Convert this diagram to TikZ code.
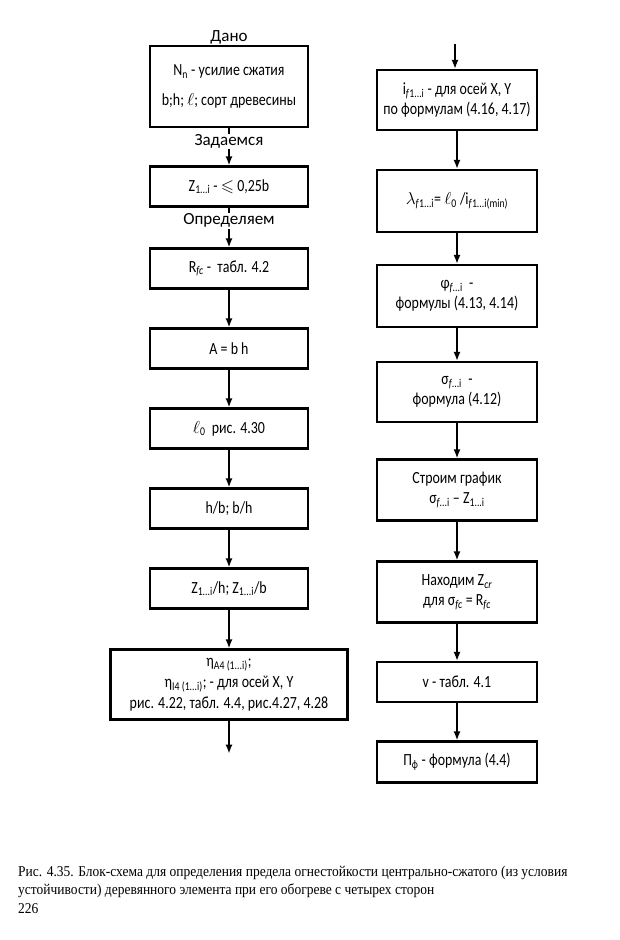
\documentclass[tikz,border=0pt]{standalone}
\usepackage{amssymb}
\usepackage{fontspec}
\setmainfont{Carlito}[FakeStretch=0.82]
\newfontfamily\labelfont{Carlito}
\newfontfamily\capfont{Liberation Serif}[FakeStretch=0.9]
\usetikzlibrary{calc}
\usetikzlibrary{shapes.geometric, arrows.meta}
\newcommand{\boxfont}{\fontsize{17}{20}\selectfont}
\tikzstyle{process} = [rectangle, minimum width=158pt, minimum height=40pt, align=center, draw=black, line width=2.2pt, font=\boxfont, inner sep=2pt]
\tikzstyle{tallproc} = [process, minimum width=160pt, minimum height=61pt]
\tikzstyle{note} = [font=\labelfont\fontsize{17}{20}\selectfont, fill=white, inner sep=1pt]
\tikzstyle{caption} = [anchor=base west, font=\capfont\fontsize{15}{18}\selectfont, inner sep=0pt]
\tikzstyle{arrow} = [line width=1.6pt,-{Latex[length=9pt,width=7pt]}]

\begin{document}
\begin{tikzpicture}[x=1pt, y=1pt, node distance=80pt]
\useasboundingbox (0,0) rectangle (620,-940);

% left column
\node (given) [process, minimum height=81pt] at (229,-86.5) {N\textsubscript{n} - усилие сжатия\\[10pt] b;h; $\ell$; сорт древесины};
\node (dano) [note, above, fill=none] at (given.north) {Дано};
\node (zset) [process, below of=given, yshift=-20pt] {Z\textsubscript{1...i} - $\leqslant$ 0,25b};
\node (rfc) [process, below of=zset, yshift=-2pt] {R\textsubscript{\textit{fc}} -\ \ табл. 4.2};
\node (area) [process, below of=rfc] {A = b h};
\node (lzero) [process, below of=area] {$\ell$\textsubscript{0}\ \ рис. 4.30};
\node (ratio) [process, below of=lzero] {h/b; b/h};
\node (zrat) [process, below of=ratio] {Z\textsubscript{1...i}/h; Z\textsubscript{1...i}/b};
\node (eta) [process, below of=zrat, yshift=-16pt, minimum width=237pt, minimum height=70pt, font=\fontsize{17}{21}\selectfont] {η\textsubscript{A4 (1...i)};\\ η\textsubscript{I4 (1...i)}; - для осей X, Y\\ рис. 4.22, табл. 4.4, рис.4.27, 4.28};
\coordinate (lout) at ($(eta.south)+(0,-33)$);

% right column
\node (radius) [tallproc, minimum height=60pt] at (457,-100) {i\textsubscript{\textit{f}1...i} - для осей X, Y\\ по формулам (4.16, 4.17)};
\coordinate (rin) at ($(radius.north)+(-2,25)$);
\node (lambda) [tallproc, below of=radius, yshift=-21pt, minimum height=62pt] {$\lambda$\textsubscript{\textit{f}1...i}= $\ell$\textsubscript{0} /i\textsubscript{\textit{f}1...i(min)}};
\node (phi) [tallproc, below of=lambda, yshift=-15pt, minimum height=62pt] {φ\textsubscript{\textit{f}...i}\ \ -\\ формулы (4.13, 4.14)};
\node (sigma) [tallproc, below of=phi, yshift=-16pt, minimum height=60pt] {σ\textsubscript{\textit{f}...i}\ \ -\\ формула (4.12)};
\node (graph) [tallproc, below of=sigma, yshift=-18pt] {Строим график\\ σ\textsubscript{\textit{f}...i} – Z\textsubscript{1...i}};
\node (zcr) [tallproc, below of=graph, yshift=-22pt] {Находим Z\textsubscript{\textit{cr}}\\ для σ\textsubscript{\textit{fc}} = R\textsubscript{\textit{fc}}};
\node (vtab) [process, below of=zcr, yshift=-10pt, minimum width=160pt] {v - табл. 4.1};
\node (pif) [process, below of=vtab, minimum width=160pt, minimum height=41pt] {П\textsubscript{ф} - формула (4.4)};

% caption
\node (cap1) [caption] at (18,-876) {Рис. 4.35. Блок-схема для определения предела огнестойкости центрально-сжатого (из условия};
\node (cap2) [caption] at (18,-894) {устойчивости) деревянного элемента при его обогреве с четырех сторон};
\node (page) [caption] at (18,-913) {226};

\draw [arrow] (given) -- node[note, pos=0.36] {Задаемся} (zset);
\draw [arrow] (zset) -- node[note, pos=0.33] {Определяем} (rfc);
\draw [arrow] (rfc) -- (area);
\draw [arrow] (area) -- (lzero);
\draw [arrow] (lzero) -- (ratio);
\draw [arrow] (ratio) -- (zrat);
\draw [arrow] (zrat) -- (eta);
\draw [arrow] (eta) -- (lout);
\draw [arrow] (rin) -- (rin |- radius.north);
\draw [arrow] (radius) -- (lambda);
\draw [arrow] (lambda) -- (phi);
\draw [arrow] (phi) -- (sigma);
\draw [arrow] (sigma) -- (graph);
\draw [arrow] (graph) -- (zcr);
\draw [arrow] (zcr) -- (vtab);
\draw [arrow] (vtab) -- (pif);
\end{tikzpicture}
\end{document}
